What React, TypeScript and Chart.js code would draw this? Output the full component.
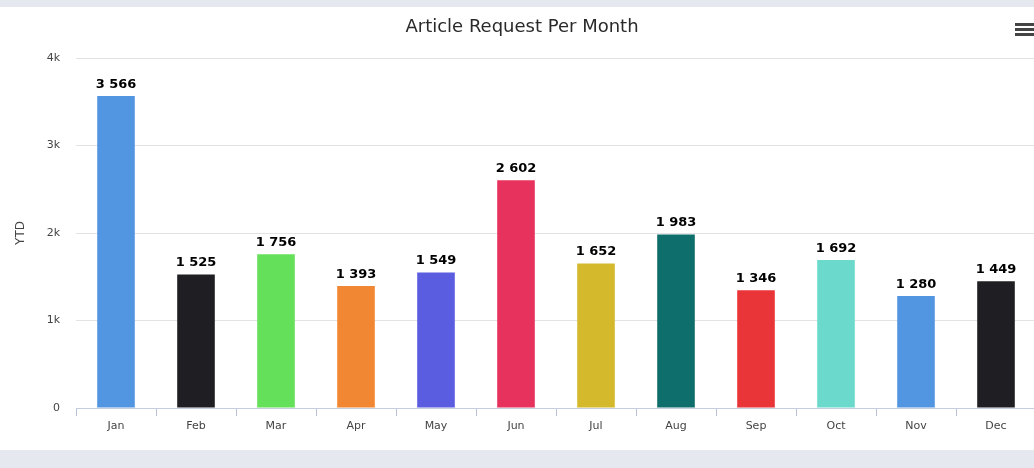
import React, { useEffect, useRef } from "react";
import { Chart, registerables } from "chart.js";

Chart.register(...registerables);

const categories = ["Jan", "Feb", "Mar", "Apr", "May", "Jun", "Jul", "Aug", "Sep", "Oct", "Nov", "Dec"];
const requests = [3566, 1525, 1756, 1393, 1549, 2602, 1652, 1983, 1346, 1692, 1280, 1449];
const barColors = [
  "#5296e2", "#1f1f23", "#64e05a", "#f28733", "#5a5ddf", "#e8325e",
  "#d5b92d", "#0e6e6c", "#ea3538", "#6bdacd", "#5296e2", "#1f1f23",
];
const yTicks = [0, 1000, 2000, 3000, 4000];
const chartTitle = "Article Request Per Month";
const yTitle = "YTD";

const FONT = "'DejaVu Sans', Verdana, sans-serif";

const fmt = (v: number) => String(v).replace(/\B(?=(\d{3})+(?!\d))/g, " ");

const extrasPlugin = {
  id: "extras",
  afterDatasetsDraw(chart: any) {
    const ctx = chart.ctx;
    const meta = chart.getDatasetMeta(0);
    ctx.save();
    ctx.font = `bold 13px ${FONT}`;
    ctx.fillStyle = "#000";
    ctx.textAlign = "center";
    ctx.textBaseline = "bottom";
    meta.data.forEach((bar: any, i: number) => {
      ctx.fillText(fmt(requests[i]), bar.x, bar.y - 5);
    });
    // title
    ctx.font = `18px ${FONT}`;
    ctx.fillStyle = "#2a2a2a";
    ctx.textBaseline = "middle";
    ctx.fillText(chartTitle, 522, 20);
    // hamburger
    ctx.fillStyle = "#444";
    [16, 21, 26].forEach((y) => ctx.fillRect(1015, y, 20, 3));
    ctx.restore();
  },
};

export default function App() {
  const ref = useRef<HTMLCanvasElement>(null);
  useEffect(() => {
    document.body.style.margin = "0";
    const chart = new Chart(ref.current!, {
      type: "bar",
      data: {
        labels: categories,
        datasets: [
          {
            data: requests,
            backgroundColor: barColors,
            categoryPercentage: 1,
            barPercentage: 0.47,
          },
        ],
      },
      options: {
        responsive: false,
        animation: false,
        layout: { padding: { top: 51, left: 0, right: 4, bottom: 0 } },
        plugins: { legend: { display: false }, tooltip: { enabled: false }, title: { display: false } },
        scales: {
          x: {
            offset: true,
            grid: { offset: true, drawOnChartArea: false, drawTicks: true, tickLength: 8, color: "#b8c2d4" },
            border: { color: "#c4cedf" },
            ticks: { color: "#444", font: { family: FONT, size: 11 }, padding: 4, maxRotation: 0 },
            afterFit(scale: any) {
              scale.height = 42;
            },
          },
          y: {
            min: 0,
            max: 4000,
            afterBuildTicks(scale: any) {
              scale.ticks = yTicks.map((v) => ({ value: v }));
            },
            grid: { color: "#e3e3e3", drawTicks: false },
            border: { display: false },
            ticks: {
              color: "#444",
              font: { family: FONT, size: 11 },
              padding: 16,
              callback: (v: any) => (v === 0 ? "0" : v / 1000 + "k"),
            },
            title: { display: true, text: yTitle, color: "#444", font: { family: FONT, size: 12 }, padding: { top: 14, bottom: 0 } },
            afterFit(scale: any) {
              scale.width = 76;
            },
          },
        },
      },
      plugins: [extrasPlugin],
    });
    return () => chart.destroy();
  }, []);
  return (
    <div style={{ width: 1034, height: 468, background: "#e5e8ef", position: "relative", overflow: "hidden" }}>
      <div style={{ position: "absolute", top: 7, left: 0, width: 1034, height: 443, background: "#fff", overflow: "hidden" }}>
        <canvas ref={ref} width={1040} height={443} style={{ display: "block" }} />
      </div>
    </div>
  );
}
